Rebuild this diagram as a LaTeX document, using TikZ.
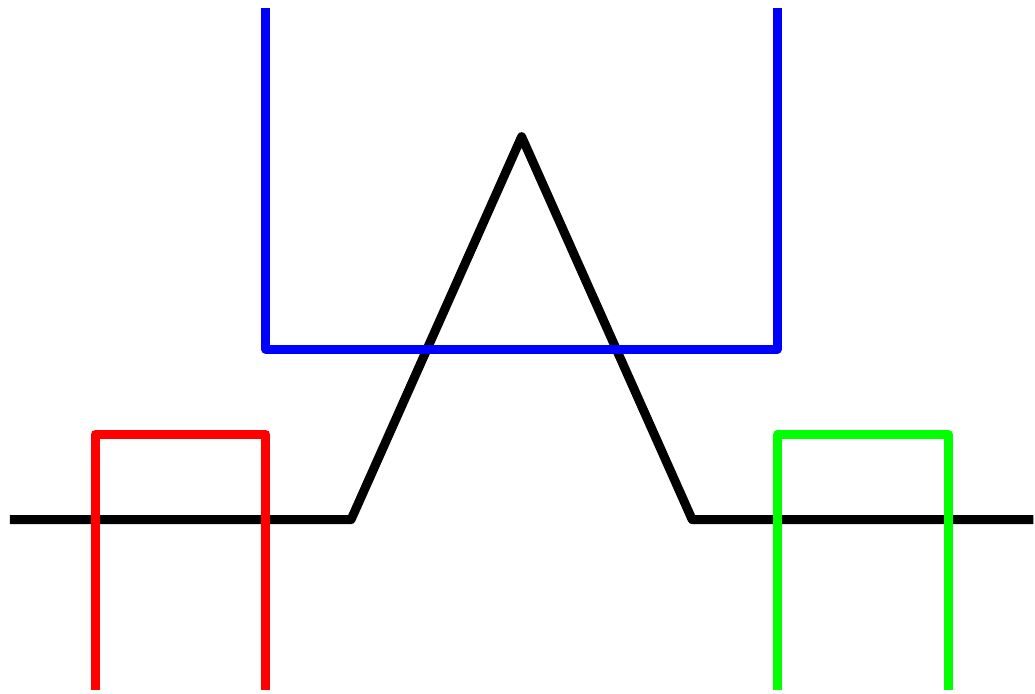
\documentclass[tikz,border=0pt]{standalone}
\begin{document}
\begin{tikzpicture}[line width=3pt, line join=round]
			\useasboundingbox (-0.117,-2.045) rectangle (12.02,6.093);
			% ground line with the peak
			\draw[black] (0,0) -- (4,0) -- (6,4.49) -- (8,0) -- (12,0);
			% top well
			\draw[blue] (3,6) -- (3,2) -- (9,2) -- (9,6);
			% side wells
			\draw[red] (1,-2) -- (1,1) -- (3,1) -- (3,-2);
			\draw[green] (9,-2) -- (9,1) -- (11,1) -- (11,-2);
		\end{tikzpicture}
\end{document}
